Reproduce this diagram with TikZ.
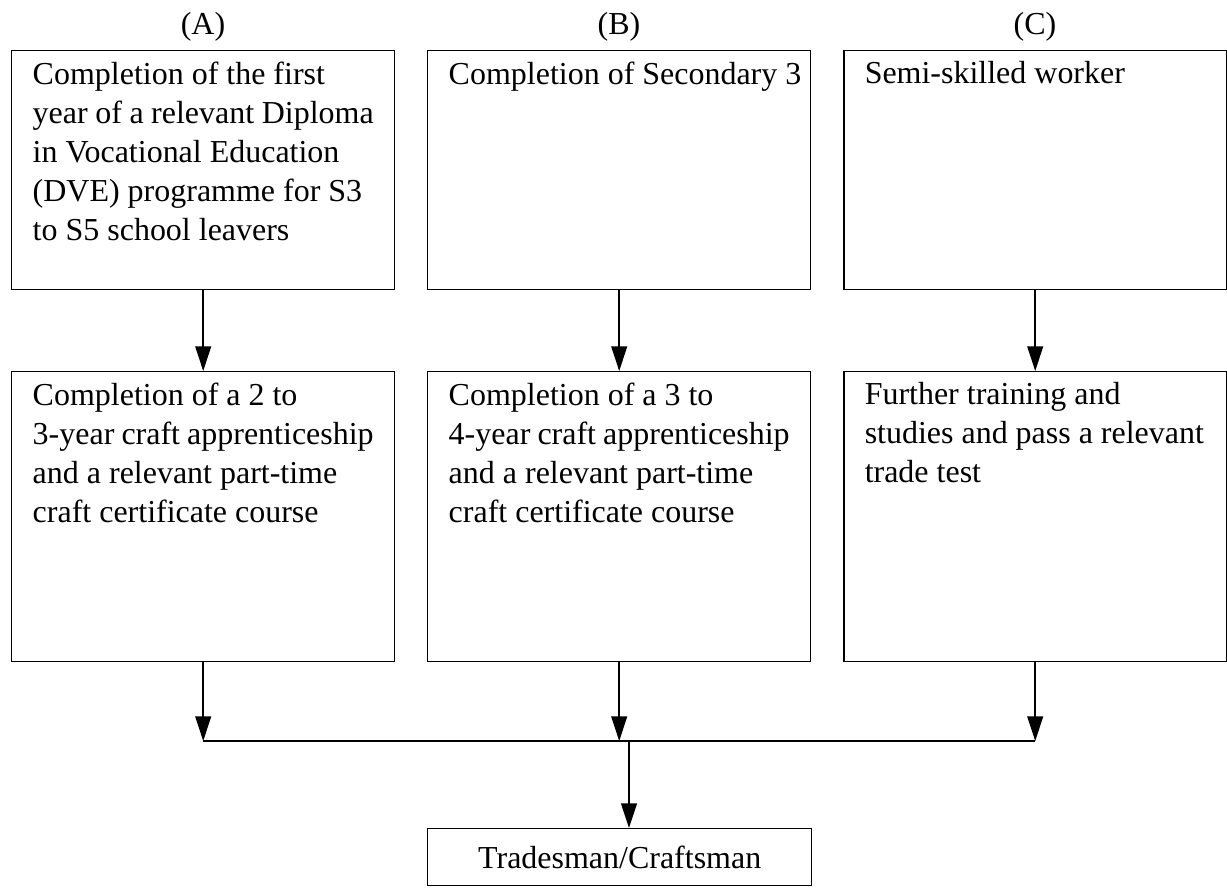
\documentclass[tikz,border=0pt]{standalone}
\usepackage{fontspec}
\setmainfont{Liberation Serif}
\usepackage{tikz}
\usetikzlibrary{positioning,arrows.meta,calc}
\newcommand{\stagetext}[2]{%
  \begin{minipage}[t][#1][t]{6.82cm}\raggedright #2\end{minipage}}

\begin{document}
\begin{tikzpicture}[x=0.02cm, y=-0.02cm,
    every node/.style={font=\fontsize{18.2}{22.2}\selectfont},
    stage/.style={draw, line width=0.85pt, anchor=north west,
                  inner xsep=0.42cm, inner ysep=0.22cm},
    link/.style={line width=0.85pt, -{Triangle[length=14pt, width=9pt]}}]
  \useasboundingbox (0,0) rectangle (1227,888);

  % column heads
  \node (labA) at (203,27) {(A)};
  \node (labB) at (619,27) {(B)};
  \node (labC) at (1035,27) {(C)};

  % first row
  \node[stage] (A1) at (11,50) {\stagetext{4.34cm}{%
      Completion of the first\\
      year of a relevant Diploma\\
      in Vocational Education\\
      (DVE) programme for S3\\
      to S5 school leavers}};
  \node[stage] (B1) at (427,50) {\stagetext{4.34cm}{\mbox{Completion of Secondary 3}}};
  \node[stage] (C1) at (843,50) {\stagetext{4.34cm}{Semi-skilled worker}};

  % second row
  \node[stage] (A2) at (11,371) {\stagetext{5.36cm}{%
      Completion of a 2 to\\
      3-year craft apprenticeship\\
      and a relevant part-time\\
      craft certificate course}};
  \node[stage] (B2) at (427,371) {\stagetext{5.36cm}{%
      Completion of a 3 to\\
      4-year craft apprenticeship\\
      and a relevant part-time\\
      craft certificate course}};
  \node[stage] (C2) at (843,371) {\stagetext{5.36cm}{%
      Further training and\\
      studies and pass a relevant\\
      trade test}};

  % result
  \node[draw, line width=0.85pt, anchor=north west, minimum width=7.68cm,
        minimum height=1.14cm] (trade) at (427,828) {Tradesman/Craftsman};

  \coordinate (bus) at (629,741);

  \draw[link] (A1.south) -- (A2.north);
  \draw[link] (B1.south) -- (B2.north);
  \draw[link] (C1.south) -- (C2.north);

  \draw[link] (A2.south) -- (A2.south |- bus);
  \draw[link] (B2.south) -- (B2.south |- bus);
  \draw[link] (C2.south) -- (C2.south |- bus);
  \draw[line width=0.85pt] (A2.south |- bus) -- (C2.south |- bus);
  \draw[link] (bus) -- (bus |- trade.north);
\end{tikzpicture}
\end{document}
